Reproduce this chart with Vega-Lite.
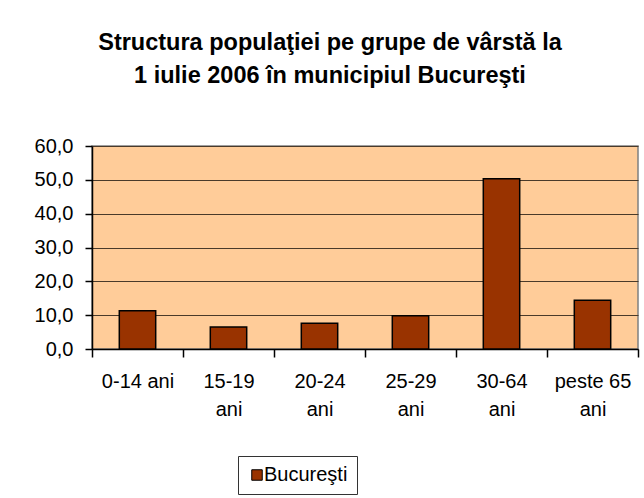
{
  "$schema": "https://vega.github.io/schema/vega-lite/v6.json",
  "width": 546,
  "height": 203,
  "autosize": {"type": "none"},
  "padding": {"left": 92, "top": 146, "right": 6, "bottom": 149},
  "background": "white",
  "title": {
    "text": ["Structura populaţiei pe grupe de vârstă la", "1 iulie 2006 în municipiul Bucureşti"],
    "font": "Liberation Sans",
    "fontSize": 23.5,
    "fontWeight": "bold",
    "color": "black",
    "anchor": "middle",
    "dx": -35,
    "offset": 49,
    "lineHeight": 33
  },
  "data": {
    "values": [
      {"grupa": "0-14 ani", "procent": 11.3, "serie": "Bucureşti"},
      {"grupa": "15-19 ani", "procent": 6.5, "serie": "Bucureşti"},
      {"grupa": "20-24 ani", "procent": 7.6, "serie": "Bucureşti"},
      {"grupa": "25-29 ani", "procent": 9.8, "serie": "Bucureşti"},
      {"grupa": "30-64 ani", "procent": 50.3, "serie": "Bucureşti"},
      {"grupa": "peste 65 ani", "procent": 14.4, "serie": "Bucureşti"}
    ]
  },
  "mark": {"type": "bar", "stroke": "black", "strokeWidth": 1.5, "width": {"band": 0.4}},
  "encoding": {
    "x": {
      "field": "grupa",
      "type": "nominal",
      "sort": null,
      "scale": {"paddingInner": 0, "paddingOuter": 0},
      "axis": {
        "title": null,
        "labelAngle": 0,
        "tickBand": "extent",
        "labelExpr": "datum.label == '0-14 ani' ? datum.label : (datum.label == 'peste 65 ani' ? ['peste 65', 'ani'] : split(datum.label, ' '))",
        "labelLineHeight": 28,
        "labelPadding": 14
      }
    },
    "y": {
      "field": "procent",
      "type": "quantitative",
      "scale": {"domain": [0, 60], "nice": false},
      "axis": {
        "title": null,
        "values": [0, 10, 20, 30, 40, 50, 60],
        "labelExpr": "replace(format(datum.value, '.1f'), '.', ',')",
        "labelPadding": 12,
        "tickSize": 7,
        "grid": true,
        "gridColor": "#4a3a2a",
        "gridWidth": 1
      }
    },
    "color": {
      "field": "serie",
      "type": "nominal",
      "scale": {"range": ["#993300"]},
      "legend": {
        "title": null,
        "orient": "none",
        "legendX": 146,
        "legendY": 310,
        "strokeColor": "#333333",
        "padding": 9,
        "symbolType": "square",
        "symbolSize": 110,
        "symbolStrokeColor": "black",
        "symbolStrokeWidth": 1,
        "symbolOpacity": 1,
        "labelFont": "Liberation Sans",
        "labelFontSize": 20,
        "labelColor": "black",
        "labelOffset": -3
      }
    }
  },
  "config": {
    "view": {"fill": "#FFCC99", "stroke": "#808080", "strokeWidth": 1.5},
    "axis": {
      "labelFont": "Liberation Sans",
      "labelFontSize": 20,
      "labelColor": "black",
      "domainColor": "black",
      "domainWidth": 1.5,
      "tickColor": "black",
      "tickWidth": 1.5,
      "tickSize": 8,
      "labelLimit": 200
    }
  }
}
